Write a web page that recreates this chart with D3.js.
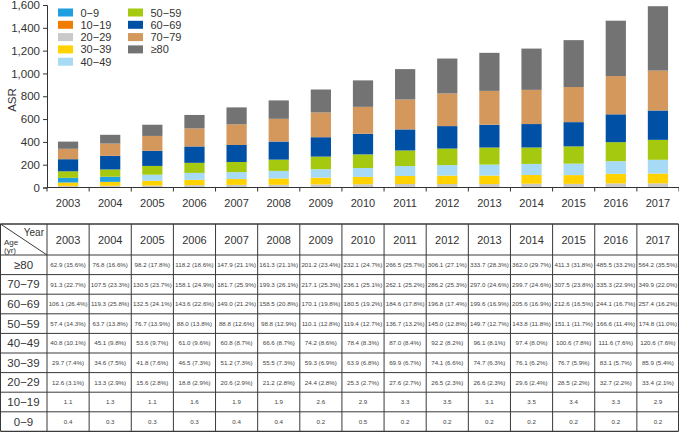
<!DOCTYPE html>
<html>
<head>
<meta charset="utf-8">
<script src="https://cdn.jsdelivr.net/npm/d3@7"></script>
<style>
  body { margin: 0; background: #fff; }
  svg text { font-family: "Liberation Sans", Arial, sans-serif; }
</style>
</head>
<body>
<svg id="plot"></svg>
<script>
const width = 679;
const height = 434;

const years = ['2003','2004','2005','2006','2007','2008','2009','2010','2011','2012','2013','2014','2015','2016','2017'];
const ageGroups = ['0\u22129','10\u221219','20\u221229','30\u221239','40\u221249','50\u221259','60\u221269','70\u221279','\u226580'];
const colors = ['#1f9ee0','#f07c00','#c9c9c9','#ffd200','#a7daf5','#a5c90f','#0050a5','#d4975c','#737373'];

// ASR by age group (bottom of stack first)
const asr0  = [0.4,0.3,0.3,0.3,0.4,0.4,0.2,0.5,0.2,0.2,0.2,0.2,0.2,0.2,0.2];
const asr10 = [1.1,1.3,1.1,1.6,1.9,1.9,2.6,2.9,3.3,3.5,3.1,3.5,3.4,3.3,2.9];
const asr20 = [12.6,13.3,15.6,18.8,20.6,21.2,24.4,25.3,27.6,26.5,26.6,29.6,28.5,32.7,33.4];
const asr30 = [29.7,34.6,41.8,46.5,51.2,55.5,59.3,63.9,69.9,74.1,74.7,76.1,76.7,83.1,85.9];
const asr40 = [40.8,45.1,53.6,61.0,60.8,66.6,74.2,78.4,87.0,92.2,96.1,97.4,100.6,111.6,120.6];
const asr50 = [57.4,63.7,76.7,88.0,88.8,98.8,110.1,119.4,136.7,145.0,149.7,143.8,151.1,166.6,174.8];
const asr60 = [106.1,119.3,132.5,143.6,149.0,158.5,170.1,180.5,184.6,196.8,199.6,205.6,212.6,244.1,257.4];
const asr70 = [91.3,107.5,130.5,158.1,181.7,199.3,217.1,236.1,262.1,286.2,297.0,299.7,307.5,335.3,349.9];
const asr80 = [62.9,76.8,98.2,118.2,147.9,161.3,201.2,232.1,266.5,306.1,333.7,362.0,411.3,485.5,564.2];

// share of total (%), as printed in the table
const pct20 = [3.1,2.9,2.8,2.9,2.9,2.8,2.8,2.7,2.7,2.3,2.3,2.4,2.2,2.2,2.1];
const pct30 = [7.4,7.5,7.6,7.3,7.3,7.3,6.9,6.8,6.7,6.6,6.3,6.2,5.9,5.7,5.4];
const pct40 = [10.1,9.8,9.7,9.6,8.7,8.7,8.6,8.3,8.4,8.2,8.1,8.0,7.8,7.6,7.6];
const pct50 = [14.3,13.8,13.9,13.8,12.6,12.9,12.8,12.7,13.2,12.8,12.7,11.8,11.7,11.4,11.0];
const pct60 = [26.4,25.8,24.1,22.6,21.2,20.8,19.8,19.2,17.8,17.4,16.9,16.9,16.5,16.7,16.2];
const pct70 = [22.7,23.3,23.7,24.9,25.9,26.1,25.3,25.1,25.2,25.3,24.6,24.6,23.8,22.9,22.0];
const pct80 = [15.6,16.6,17.8,18.6,21.1,21.1,23.4,24.7,25.7,27.1,28.3,29.7,31.8,33.2,35.5];

const yTicks = [0,200,400,600,800,1000,1200,1400,1600];

const series = [asr0, asr10, asr20, asr30, asr40, asr50, asr60, asr70, asr80];
const shares = [null, null, pct20, pct30, pct40, pct50, pct60, pct70, pct80];

let svg;
let sx, sy, sc;

const axisLeftX = 47;
const chartTop = 5;
const chartBottom = 187.5;
const tableTop = 224;
const headerH = 31;
const rowH = 19.6;


function main(){
  initSvg();
  initScales();
  drawBars();
  drawAxes();
  drawLegend();
  drawTable();
}


function initSvg(){
  svg = d3.select('svg#plot')
  .attr('width', width)
  .attr('height', height);
}


function initScales(){
  sx = d3.scaleBand()
  .domain(years)
  .range([axisLeftX, width])
  .paddingInner(0.52)
  .paddingOuter(0.26);

  sy = d3.scaleLinear()
  .domain([0, 1600])
  .range([chartBottom, chartTop]);

  sc = d3.scaleOrdinal()
  .domain(ageGroups)
  .range(colors);
}


function drawBars(){
  let rows = years.map((y,i)=>{
    let r = {year: y};
    ageGroups.forEach((g,j)=>{ r[g] = series[j][i]; });
    return r;
  });
  let stacked = d3.stack().keys(ageGroups)(rows);

  svg.append('g')
  .selectAll('g')
  .data(stacked)
  .enter()
  .append('g')
  .each(function(s){
    d3.select(this).selectAll('rect')
    .data(s)
    .enter()
    .append('rect')
    .attr('x', d=>sx(d.data.year))
    .attr('y', d=>sy(d[1]))
    .attr('width', sx.bandwidth())
    .attr('height', d=>sy(d[0])-sy(d[1]))
    // the original draws 40-49 of 2003/2004 in the 0-9 blue
    .attr('fill', d=>(s.key==ageGroups[4] && +d.data.year<2005) ? sc(ageGroups[0]) : sc(s.key));
  });
}


function drawAxes(){
  let gy = svg.append('g')
  .attr('transform', `translate(${axisLeftX},0)`)
  .call(d3.axisLeft(sy).tickValues(yTicks).tickFormat(d3.format(',')).tickSize(4).tickPadding(3));
  gy.select('.domain').attr('stroke', '#333');
  gy.selectAll('.tick line').attr('stroke', '#333');
  gy.selectAll('.tick text').attr('font-size', 11.5).attr('fill', '#333');

  let gx = svg.append('g')
  .attr('transform', `translate(0,${chartBottom})`);
  gx.append('line')
  .attr('x1', axisLeftX).attr('x2', width)
  .attr('stroke', '#333');
  gx.selectAll('.xtick')
  .data(d3.range(years.length+1))
  .enter()
  .append('line')
  .attr('x1', i=>axisLeftX + i*sx.step())
  .attr('x2', i=>axisLeftX + i*sx.step())
  .attr('y2', 4)
  .attr('stroke', '#333');
  gx.selectAll('.xlab')
  .data(years)
  .enter()
  .append('text')
  .attr('x', d=>sx(d)+sx.bandwidth()/2)
  .attr('y', 19.5)
  .attr('text-anchor', 'middle')
  .attr('font-size', 11)
  .attr('fill', '#333')
  .text(d=>d);

  svg.append('text')
  .attr('transform', 'translate(16,100) rotate(-90)')
  .attr('text-anchor', 'middle')
  .attr('font-size', 11.5)
  .attr('fill', '#333')
  .text('ASR');
}


function drawLegend(){
  let items = ageGroups.map((g,i)=>({key: g, col: i<5 ? 0 : 1, row: i<5 ? i : i-5}));
  let lg = svg.append('g')
  .selectAll('g')
  .data(items)
  .enter()
  .append('g')
  .attr('transform', d=>`translate(${58 + d.col*70},${12.5 + d.row*12.3})`);
  lg.append('rect')
  .attr('x', 0).attr('y', -4)
  .attr('width', 15).attr('height', 8)
  .attr('fill', d=>sc(d.key));
  lg.append('text')
  .attr('x', 22.5)
  .attr('y', 4)
  .attr('font-size', 11)
  .attr('fill', '#333')
  .text(d=>d.key);
}


function drawTable(){
  let g = svg.append('g');
  let tableRows = ageGroups.slice().reverse();
  let nRows = tableRows.length;
  let tableBottom = tableTop + headerH + nRows*rowH;
  let lineColor = '#3a3a3a';

  // horizontal lines
  let hy = [tableTop, tableTop+headerH].concat(d3.range(1, nRows+1).map(i=>tableTop+headerH+i*rowH));
  g.selectAll('.hline')
  .data(hy)
  .enter()
  .append('line')
  .attr('x1', 0.5).attr('x2', width-0.5)
  .attr('y1', d=>d).attr('y2', d=>d)
  .attr('stroke', lineColor)
  .attr('stroke-width', (d,i)=>(i==0 || i==hy.length-1) ? 1.3 : 1);

  // vertical lines
  let vx = [0.5].concat(d3.range(years.length).map(i=>axisLeftX + i*sx.step()), [width-0.5]);
  g.selectAll('.vline')
  .data(vx)
  .enter()
  .append('line')
  .attr('x1', d=>d).attr('x2', d=>d)
  .attr('y1', tableTop).attr('y2', tableBottom)
  .attr('stroke', lineColor);

  // header corner
  g.append('line')
  .attr('x1', 0.5).attr('y1', tableTop)
  .attr('x2', axisLeftX).attr('y2', tableTop+headerH)
  .attr('stroke', lineColor);
  g.append('text')
  .attr('x', axisLeftX-3).attr('y', tableTop+12)
  .attr('text-anchor', 'end')
  .attr('font-size', 10)
  .attr('fill', '#333')
  .text('Year');
  g.append('text')
  .attr('x', 4).attr('y', tableTop+21)
  .attr('font-size', 8)
  .attr('fill', '#333')
  .text('Age');
  g.append('text')
  .attr('x', 4).attr('y', tableTop+29)
  .attr('font-size', 8)
  .attr('fill', '#333')
  .text('(yr)');

  g.selectAll('.yearHead')
  .data(years)
  .enter()
  .append('text')
  .attr('x', d=>sx(d)+sx.bandwidth()/2)
  .attr('y', tableTop+headerH/2+4)
  .attr('text-anchor', 'middle')
  .attr('font-size', 11)
  .attr('fill', '#333')
  .text(d=>d);

  tableRows.forEach((grp,r)=>{
    let j = ageGroups.indexOf(grp);
    let cy = tableTop + headerH + r*rowH + rowH/2;
    g.append('text')
    .attr('x', axisLeftX/2)
    .attr('y', cy+4)
    .attr('text-anchor', 'middle')
    .attr('font-size', 11.5)
    .attr('fill', '#333')
    .text(grp);

    g.selectAll('.cell'+j)
    .data(years)
    .enter()
    .append('text')
    .attr('x', d=>sx(d)+sx.bandwidth()/2)
    .attr('y', cy+2.2)
    .attr('text-anchor', 'middle')
    .attr('font-size', 6.2)
    .attr('fill', '#444')
    .text((d,i)=>{
      let v = series[j][i].toFixed(1);
      return shares[j] ? `${v} (${shares[j][i].toFixed(1)}%)` : v;
    });
  });
}


document.addEventListener('DOMContentLoaded', main);
</script>
</body>
</html>
